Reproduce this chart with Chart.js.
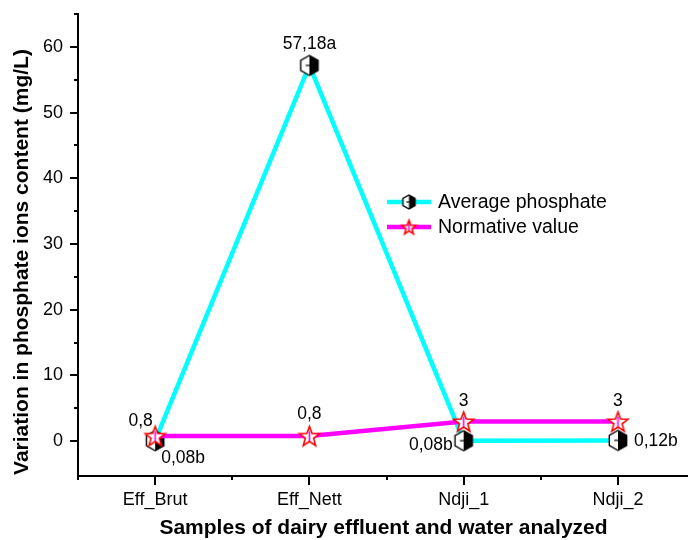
<!DOCTYPE html>
<html><head><meta charset="utf-8">
<script src="https://cdn.jsdelivr.net/npm/chart.js@4.4.1/dist/chart.umd.min.js"></script>
<style>html,body{margin:0;padding:0;background:#fff;} canvas{display:block;}</style>
</head><body>
<canvas id="c" width="688" height="540"></canvas>
<script>
const categories = ['Eff_Brut', 'Eff_Nett', 'Ndji_1', 'Ndji_2'];
const averagePhosphate = [0.08, 57.18, 0.08, 0.12];
const normativeValue = [0.8, 0.8, 3, 3];
const averageLabels = ['0,08b', '57,18a', '0,08b', '0,12b'];
const normativeLabels = ['0,8', '0,8', '3', '3'];
const yTickValues = [0, 10, 20, 30, 40, 50, 60];
const yMinorTicks = [5, 15, 25, 35, 45, 55, 65];
const xTickValues = [0, 1, 2, 3];
const xMinorTicks = [-0.5, 0.5, 1.5, 2.5];
const seriesNames = ['Average phosphate', 'Normative value'];
const yTitle = 'Variation in phosphate ions content (mg/L)';
const xTitle = 'Samples of dairy effluent and water analyzed';

const FONT = '"Liberation Sans", Arial, sans-serif';
const CYAN = '#00FFFF', MAGENTA = '#FF00FF';

function hexMarker(r) {
  const w = Math.ceil(2 * r * Math.cos(Math.PI / 6)) + 4, h = Math.ceil(2 * r) + 4;
  const c = document.createElement('canvas'); c.width = w; c.height = h;
  const g = c.getContext('2d'); const cx = w / 2, cy = h / 2;
  const pts = [];
  for (let k = 0; k < 6; k++) { const a = -Math.PI / 2 + k * Math.PI / 3; pts.push([cx + r * Math.cos(a), cy + r * Math.sin(a)]); }
  const path = () => { g.beginPath(); pts.forEach((p, i) => i ? g.lineTo(p[0], p[1]) : g.moveTo(p[0], p[1])); g.closePath(); };
  path(); g.fillStyle = '#fff'; g.fill();
  g.beginPath(); g.moveTo(pts[0][0], pts[0][1]); g.lineTo(pts[1][0], pts[1][1]); g.lineTo(pts[2][0], pts[2][1]); g.lineTo(pts[3][0], pts[3][1]); g.closePath();
  g.fillStyle = '#000'; g.fill();
  g.strokeStyle = '#000'; g.lineWidth = 1.2;
  g.beginPath(); g.moveTo(cx - r * 0.38, cy); g.lineTo(cx, cy); g.stroke();
  path(); g.lineWidth = 1.4; g.stroke();
  return c;
}
function starMarker(R) {
  const s = Math.ceil(2 * R) + 4;
  const c = document.createElement('canvas'); c.width = s; c.height = s;
  const g = c.getContext('2d'); const cx = s / 2, cy = s / 2 + R * 0.1;
  const path = () => {
    g.beginPath();
    for (let k = 0; k < 10; k++) {
      const a = -Math.PI / 2 + k * Math.PI / 5, rr = k % 2 ? R * 0.42 : R;
      const x = cx + rr * Math.cos(a), y = cy + rr * Math.sin(a);
      k ? g.lineTo(x, y) : g.moveTo(x, y);
    }
    g.closePath();
  };
  path(); g.fillStyle = '#fff'; g.fill();
  g.save(); path(); g.clip();
  g.strokeStyle = MAGENTA; g.lineWidth = 1.6;
  g.beginPath(); g.moveTo(cx, cy - R * 0.55); g.lineTo(cx, cy + R * 0.55); g.stroke();
  g.restore();
  path(); g.strokeStyle = '#FF0000'; g.lineWidth = 1.6; g.lineJoin = 'miter'; g.stroke();
  return c;
}
const hexBig = hexMarker(10), hexSmall = hexMarker(7);
const starBig = starMarker(10.5), starSmall = starMarker(7.5);

const labelStyle = [
  [{dx: 28, dy: 18, align: 'center'}, {dx: 0, dy: -21, align: 'center'}, {dx: -11, dy: 5, align: 'right'}, {dx: 16, dy: 1, align: 'left'}],
  [{dx: -14.5, dy: -15, align: 'center'}, {dx: 0, dy: -22, align: 'center'}, {dx: 0, dy: -20, align: 'center'}, {dx: 0, dy: -20, align: 'center'}]
];
const labelTexts = [averageLabels, normativeLabels];

const decorPlugin = {
  id: 'decor',
  afterDraw(chart) {
    const ctx = chart.ctx, xs = chart.scales.x, ys = chart.scales.y, ca = chart.chartArea;
    ctx.save();
    ctx.strokeStyle = '#000'; ctx.lineWidth = 2;
    yTickValues.forEach(v => { const y = Math.round(ys.getPixelForValue(v)); ctx.beginPath(); ctx.moveTo(ca.left - 8, y); ctx.lineTo(ca.left, y); ctx.stroke(); });
    yMinorTicks.forEach(v => { const y = Math.round(ys.getPixelForValue(v)); ctx.beginPath(); ctx.moveTo(ca.left - 4, y); ctx.lineTo(ca.left, y); ctx.stroke(); });
    xTickValues.forEach(v => { const x = Math.round(xs.getPixelForValue(v)); ctx.beginPath(); ctx.moveTo(x, ca.bottom); ctx.lineTo(x, ca.bottom + 9); ctx.stroke(); });
    xMinorTicks.forEach(v => { const x = Math.round(xs.getPixelForValue(v)); ctx.beginPath(); ctx.moveTo(x, ca.bottom); ctx.lineTo(x, ca.bottom + 4); ctx.stroke(); });
    ctx.fillStyle = '#000'; ctx.font = '17.5px ' + FONT; ctx.textBaseline = 'middle';
    [0, 1].forEach(di => {
      const meta = chart.getDatasetMeta(di);
      meta.data.forEach((el, i) => {
        const st = labelStyle[di][i];
        ctx.textAlign = st.align;
        ctx.fillText(labelTexts[di][i], el.x + st.dx, el.y + st.dy);
      });
    });
    const lg = [{y: 202, color: CYAN, img: hexSmall}, {y: 227, color: MAGENTA, img: starSmall}];
    lg.forEach((it, i) => {
      ctx.strokeStyle = it.color; ctx.lineWidth = 4.5;
      ctx.beginPath(); ctx.moveTo(387, it.y); ctx.lineTo(431, it.y); ctx.stroke();
      ctx.drawImage(it.img, 409 - it.img.width / 2, it.y - it.img.height / 2);
      ctx.fillStyle = '#000'; ctx.font = '19.5px ' + FONT; ctx.textAlign = 'left'; ctx.textBaseline = 'middle';
      ctx.fillText(seriesNames[i], 438, it.y + 1);
    });
    ctx.font = 'bold 21px ' + FONT; ctx.textAlign = 'center'; ctx.textBaseline = 'middle';
    ctx.fillText(xTitle, 383.5, 528);
    ctx.save(); ctx.translate(22, 262); ctx.rotate(-Math.PI / 2); ctx.fillText(yTitle, 0, 0); ctx.restore();
    ctx.restore();
  }
};

new Chart(document.getElementById('c'), {
  type: 'line',
  data: {
    datasets: [
      {
        label: seriesNames[0],
        data: averagePhosphate.map((v, i) => ({x: i, y: v})),
        borderColor: CYAN, borderWidth: 4.5, tension: 0,
        pointStyle: hexBig, pointRadius: 10, order: 2
      },
      {
        label: seriesNames[1],
        data: normativeValue.map((v, i) => ({x: i, y: v})),
        borderColor: MAGENTA, borderWidth: 4.5, tension: 0,
        pointStyle: starBig, pointRadius: 10, order: 1
      }
    ]
  },
  options: {
    responsive: false, animation: false, devicePixelRatio: 1,
    layout: {autoPadding: false, padding: {top: 14, right: 0, left: 0, bottom: 0}},
    plugins: {legend: {display: false}, tooltip: {enabled: false}},
    scales: {
      x: {
        type: 'linear', min: -0.5, max: 3.454,
        afterBuildTicks: s => { s.ticks = xTickValues.map(v => ({value: v})); },
        afterFit: s => { s.height = 64; s.paddingLeft = 0; s.paddingRight = 0; },
        grid: {display: false, drawTicks: false},
        border: {display: true, color: '#000', width: 2},
        ticks: {color: '#000', font: {family: FONT, size: 18}, padding: 13, maxRotation: 0, autoSkip: false,
          callback: v => categories[v] ?? ''}
      },
      y: {
        type: 'linear', min: -5.3, max: 65,
        afterBuildTicks: s => { s.ticks = yTickValues.map(v => ({value: v})); },
        afterFit: s => { s.width = 78; s.paddingTop = 0; s.paddingBottom = 0; },
        grid: {display: false, drawTicks: false},
        border: {display: true, color: '#000', width: 2},
        ticks: {color: '#000', font: {family: FONT, size: 18}, padding: 15, callback: v => String(v)}
      }
    }
  },
  plugins: [decorPlugin]
});
</script>
</body></html>
